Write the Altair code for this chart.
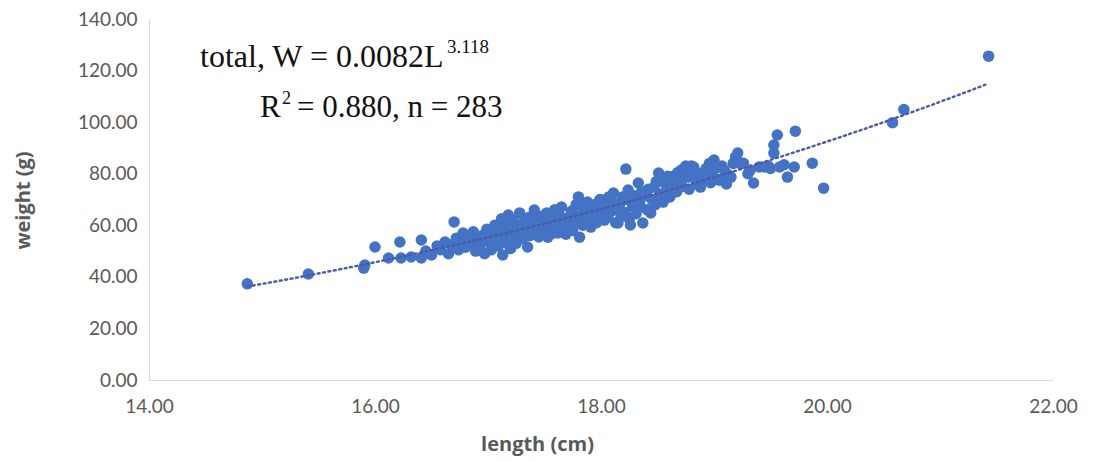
import altair as alt
import pandas as pd

# ---- data ----
length_cm = [
    14.87, 15.41, 15.90, 15.91, 16.00, 16.12, 16.22, 16.23, 16.32, 16.41, 16.41,
    16.45, 16.50, 16.55, 16.58, 16.62, 16.65, 16.68,
    16.70, 16.72, 16.74, 16.76, 16.78, 16.80, 16.82,
    16.85, 16.87, 16.89, 16.91, 16.93, 16.95, 16.97, 16.99,
    17.01, 17.03, 17.04, 17.06, 17.07, 17.09, 17.10,
    17.12, 17.13, 17.14, 17.15, 17.17, 17.18, 17.19, 17.20,
    17.21, 17.22, 17.24, 17.25, 17.27, 17.28, 17.29,
    17.31, 17.32, 17.34, 17.35, 17.36, 17.37, 17.39,
    17.41, 17.42, 17.43, 17.45, 17.46, 17.48, 17.49,
    17.51, 17.52, 17.53, 17.55, 17.56, 17.58, 17.59,
    17.61, 17.62, 17.63, 17.65, 17.66, 17.67, 17.69,
    17.71, 17.72, 17.74, 17.75, 17.77, 17.78, 17.79,
    17.80, 17.81, 17.82, 17.84, 17.85, 17.87, 17.88,
    17.90, 17.91, 17.93, 17.94, 17.96, 17.97, 17.99,
    18.00, 18.01, 18.03, 18.04, 18.06, 18.07, 18.09,
    18.10, 18.11, 18.13, 18.14, 18.15, 18.17, 18.18, 18.19,
    18.22, 18.21, 18.23, 18.24, 18.25, 18.26, 18.28, 18.29,
    18.31, 18.33, 18.34, 18.35, 18.36, 18.37, 18.39,
    18.41, 18.42, 18.44, 18.45, 18.47, 18.48, 18.49,
    18.51, 18.52, 18.54, 18.55, 18.56, 18.58, 18.59,
    18.61, 18.62, 18.64, 18.65, 18.67, 18.68, 18.69,
    18.71, 18.72, 18.74, 18.75, 18.77, 18.78, 18.79,
    18.80, 18.82, 18.84, 18.85, 18.87, 18.88, 18.89,
    18.91, 18.93, 18.94, 18.96, 18.97, 18.99,
    19.00, 19.02, 19.03, 19.05, 19.07, 19.09,
    19.11, 19.13, 19.15, 19.17, 19.19,
    19.21, 19.23, 19.26, 19.30, 19.32, 19.35, 19.40,
    19.45, 19.48, 19.50, 19.53, 19.53, 19.56, 19.58, 19.62, 19.65, 19.72, 19.71,
    19.87, 19.97,
    20.58, 20.68, 21.43,
]
weight_g = [
    37.3, 41.1, 43.4, 44.6, 51.6, 47.3, 53.5, 47.3, 47.7, 54.3, 47.3,
    50.0, 48.5, 52.0, 50.5, 53.5, 49.0, 52.5,
    61.3, 55.0, 50.5, 53.5, 57.0, 51.5, 55.5,
    53.0, 57.5, 50.0, 54.5, 52.0, 56.0, 49.0, 58.5,
    53.5, 50.5, 57.0, 60.0, 54.5, 52.0, 58.0,
    62.5, 48.5, 56.0, 60.5, 53.0, 64.0, 57.5, 51.0,
    59.0, 62.0, 55.5, 53.0, 60.0, 64.8, 57.0,
    55.0, 61.5, 58.5, 51.6, 63.0, 56.0, 60.0,
    65.9, 58.0, 62.5, 55.5, 60.5, 63.5, 57.0,
    61.0, 64.8, 55.4, 59.0, 62.5, 57.0, 66.0,
    60.5, 57.0, 64.0, 67.1, 59.0, 62.0, 56.5,
    63.0, 60.0, 65.5, 58.0, 62.0, 68.0, 61.0,
    71.0, 55.4, 64.0, 60.0, 67.0, 62.5, 69.0,
    65.0, 59.3, 63.0, 68.0, 61.0, 66.0, 70.0,
    64.0, 69.8, 62.0, 67.0, 63.2, 71.0, 65.5,
    69.0, 72.5, 61.0, 66.0, 60.9, 68.5, 63.5, 71.0,
    81.8, 65.0, 70.0, 73.7, 62.5, 60.1, 67.5, 71.5,
    64.5, 76.4, 69.0, 67.1, 73.0, 60.9, 71.5,
    66.0, 74.0, 64.8, 70.0, 74.8, 68.0, 77.0,
    80.3, 72.0, 77.0, 69.0, 72.5, 75.5, 79.0,
    71.0, 74.8, 79.0, 76.5, 73.0, 80.5, 77.0,
    81.4, 75.0, 80.0, 83.0, 78.7, 74.0, 82.0,
    83.0, 82.6, 77.5, 80.5, 75.5, 74.8, 79.0,
    80.3, 82.0, 78.0, 84.0, 76.5, 81.0,
    85.3, 78.0, 82.5, 77.5, 83.0, 81.4,
    76.0, 79.5, 78.7, 84.0, 86.5,
    88.0, 84.0, 84.1, 80.0, 81.4, 76.4, 82.6,
    82.6, 83.0, 82.0, 88.0, 91.1, 95.0, 82.6, 83.5, 78.7, 96.5, 82.6,
    84.1, 74.4,
    99.8, 104.9, 125.6,
]
x_ticks = [14, 16, 18, 20, 22]
y_ticks = [0, 20, 40, 60, 80, 100, 120, 140]

eq_main = "total, W = 0.0082L"
eq_exp = "3.118"
r2_letter = "R"
r2_sup = "2"
r2_rest = "= 0.880, n = 283"

df = pd.DataFrame({"length": length_cm, "weight": weight_g})

POINT = "#4472C4"
TREND = "#4a5aa8"
AXIS_GRAY = "#595959"

x_enc = alt.X(
    "length:Q",
    scale=alt.Scale(domain=[14, 22], nice=False, zero=False),
    axis=alt.Axis(
        values=x_ticks, format=".2f", title="length (cm)", grid=False, ticks=False,
        labelFlush=False, labelOverlap=False,
        domainColor="#d9d9d9", domainWidth=1.2,
        labelFont="Lato", labelFontSize=19, labelColor=AXIS_GRAY, labelPadding=17,
        titleFont="Open Sans", titleFontSize=20, titleFontWeight="bold",
        titleColor=AXIS_GRAY, titleX=388, titleY=64, titleBaseline="middle",
        titleAlign="center",
    ),
)
y_enc = alt.Y(
    "weight:Q",
    scale=alt.Scale(domain=[0, 140], nice=False),
    axis=alt.Axis(
        values=y_ticks, format=".2f", title="weight (g)", grid=False, ticks=False,
        labelFlush=False, labelOverlap=False,
        domainColor="#d9d9d9", domainWidth=1.2,
        labelFont="Lato", labelFontSize=19, labelColor=AXIS_GRAY, labelPadding=12,
        titleFont="Open Sans", titleFontSize=20, titleFontWeight="bold",
        titleColor=AXIS_GRAY, titleX=-126, titleY=181, titleBaseline="middle",
        titleAlign="center", titleAngle=270,
    ),
)

base = alt.Chart(df)

points = base.mark_circle(size=132, opacity=1, color=POINT).encode(x=x_enc, y=y_enc)

trend = base.transform_regression(
    "length", "weight", method="pow", extent=[14.87, 21.43]
).mark_line(color=TREND, strokeWidth=2.4, strokeDash=[2, 3.5], strokeCap="round").encode(
    x="length:Q", y="weight:Q"
)


def label(text, px, py, size):
    return alt.Chart(pd.DataFrame({"t": [text]})).mark_text(
        font="Liberation Serif", fontSize=size, color="#111111",
        align="left", baseline="alphabetic",
    ).encode(text="t:N", x=alt.value(px), y=alt.value(py))


texts = (
    label(eq_main, 51, 48, 32)
    + label(eq_exp, 298, 34, 19)
    + label(r2_letter, 111, 98, 31)
    + label(r2_sup, 133, 85, 18)
    + label(r2_rest, 148, 98, 31)
)

chart = alt.layer(points, trend, texts).properties(
    width=904,
    height=361,
    autosize=alt.AutoSizeParams(type="none"),
    padding={"left": 141, "top": 11, "right": 42, "bottom": 80},
).configure_view(stroke=None)

chart.save("out.html", embed_options={"renderer": "svg", "actions": False})
